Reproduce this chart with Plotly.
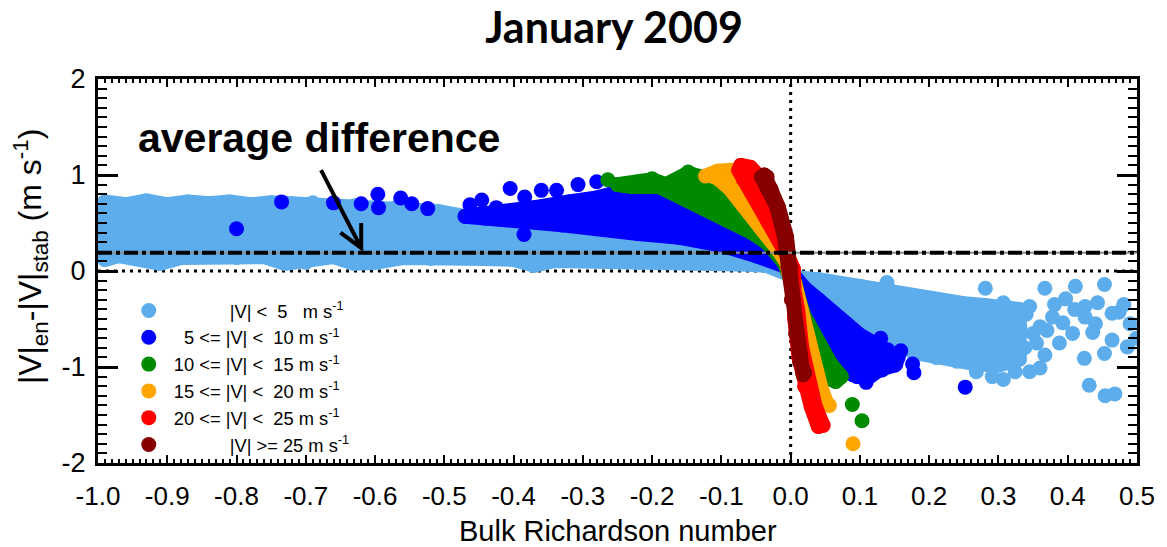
import plotly.graph_objects as go

# Difference between ensemble and stability-function wind speed versus the
# bulk Richardson number, January 2009, split into six wind-speed classes.
# Each class: the outline (marker centres) of its dense cloud + scattered points.

# |V| < 5 m/s
lb_cloud_x = [-0.99, -0.96, -0.93, -0.90, -0.87, -0.84, -0.81, -0.78, -0.75, -0.72, -0.69, -0.66,
              -0.63, -0.60, -0.57, -0.54, -0.51, -0.48,
              -0.44, -0.38, -0.30, -0.22, -0.15, -0.10, -0.05, -0.02, 0.00,
              0.01, 0.04, 0.07, 0.10, 0.13, 0.16, 0.19, 0.22, 0.25, 0.28, 0.31, 0.33,
              0.33, 0.30, 0.27, 0.24, 0.21, 0.18, 0.14, 0.10, 0.06, 0.03, 0.00,
              -0.02, -0.06, -0.10, -0.14, -0.18, -0.22, -0.26, -0.30, -0.34, -0.37, -0.40, -0.44,
              -0.48, -0.52, -0.56, -0.60, -0.63, -0.66, -0.70, -0.73, -0.76, -0.80, -0.84, -0.88,
              -0.91, -0.94, -0.97, -0.99]
lb_cloud_y = [0.72, 0.69, 0.73, 0.69, 0.72, 0.70, 0.72, 0.69, 0.71, 0.70, 0.71, 0.67,
              0.68, 0.66, 0.66, 0.63, 0.62, 0.58,
              0.53, 0.47, 0.40, 0.33, 0.27, 0.19, 0.10, 0.03, -0.03,
              -0.07, -0.09, -0.13, -0.16, -0.20, -0.25, -0.28, -0.31, -0.34, -0.36, -0.38, -0.40,
              -0.92, -0.98, -0.97, -0.94, -0.90, -0.85, -0.72, -0.52, -0.32, -0.16, -0.06,
              0.05, 0.07, 0.08, 0.08, 0.10, 0.09, 0.11, 0.12, 0.11, 0.06, 0.12, 0.13,
              0.14, 0.13, 0.14, 0.09, 0.08, 0.15, 0.09, 0.08, 0.15, 0.14, 0.16, 0.14,
              0.08, 0.14, 0.16, 0.12]
lb_pts_x = [0.139, 0.281, 0.367, 0.411, 0.453, 0.397, 0.381, 0.345, 0.307, 0.425, 0.443, 0.481,
            0.474, 0.424, 0.431, 0.454, 0.468, 0.453, 0.464, 0.486, 0.407, 0.388, 0.367, 0.360,
            0.345, 0.324, 0.307, 0.291, 0.268, 0.338, 0.317, 0.436, 0.378, 0.360, 0.393, 0.425,
            0.464, 0.331, 0.340, 0.350, 0.355, 0.370, 0.410, 0.440, 0.490, 0.499]
lb_pts_y = [-0.12, -0.18, -0.18, -0.16, -0.14, -0.29, -0.35, -0.37, -0.33, -0.37, -0.33, -0.35,
            -0.43, -0.91, -1.19, -1.30, -1.28, -0.86, -0.72, -0.79, -0.65, -0.75, -0.875, -1.01,
            -1.05, -1.05, -1.13, -1.10, -1.05, -0.80, -0.93, -0.64, -0.48, -0.58, -0.54, -0.48,
            -0.44, -0.58, -0.45, -0.65, -0.75, -0.62, -0.40, -0.55, -0.55, -0.70]

# 5 <= |V| < 10 m/s
b_cloud_x = [-0.47, -0.44, -0.40, -0.36, -0.32, -0.28, -0.24, -0.20, -0.16, -0.12, -0.08, -0.04,
             -0.01, 0.005, 0.02, 0.04, 0.06, 0.08, 0.10, 0.12, 0.14, 0.155,
             0.15, 0.13, 0.11, 0.09, 0.07, 0.05, 0.03, 0.015, 0.00,
             -0.02, -0.05, -0.10, -0.16, -0.22, -0.28, -0.33, -0.39, -0.44]
b_cloud_y = [0.57, 0.59, 0.63, 0.67, 0.72, 0.76, 0.84, 0.86, 0.80, 0.70, 0.52, 0.30,
             0.08, -0.08, -0.18, -0.30, -0.43, -0.56, -0.67, -0.75, -0.82, -0.90,
             -0.98, -1.02, -1.12, -1.08, -0.95, -0.70, -0.42, -0.20, 0.03,
             0.09, 0.16, 0.27, 0.35, 0.39, 0.45, 0.48, 0.52, 0.55]
b_pts_x = [-0.800, -0.735, -0.660, -0.620, -0.596, -0.595, -0.563, -0.547, -0.524, -0.463, -0.446,
           -0.425, -0.405, -0.384, -0.385, -0.360, -0.338, -0.307, -0.280, -0.245,
           0.130, 0.159, 0.152, 0.176, 0.178, 0.132, 0.109, 0.096, 0.252]
b_pts_y = [0.44, 0.72, 0.71, 0.70, 0.80, 0.66, 0.76, 0.70, 0.65, 0.69, 0.74,
           0.66, 0.86, 0.77, 0.38, 0.84, 0.84, 0.90, 0.93, 0.90,
           -0.70, -0.83, -0.97, -0.97, -1.06, -1.03, -1.16, -1.10, -1.21]

# 10 <= |V| < 15 m/s
g_cloud_x = [-0.25, -0.22, -0.20, -0.18, -0.16, -0.148, -0.13, -0.11, -0.08, -0.05, -0.025, -0.008,
             0.006, 0.015, 0.035, 0.058, 0.073, 0.065, 0.055,
             0.040, 0.025, 0.012, 0.000,
             -0.009, -0.019, -0.033, -0.056, -0.095, -0.142, -0.19, -0.23]
g_cloud_y = [0.90, 0.93, 0.95, 0.90, 0.95, 1.02, 0.98, 0.95, 0.85, 0.62, 0.35, 0.10,
             -0.12, -0.41, -0.69, -0.97, -1.10, -1.15, -1.12,
             -0.90, -0.60, -0.30, -0.05,
             0.08, 0.17, 0.29, 0.40, 0.54, 0.75, 0.88, 0.88]
g_pts_x = [-0.264, -0.221, -0.200, -0.162, -0.148, -0.180, 0.089, 0.103]
g_pts_y = [0.95, 0.92, 0.96, 0.95, 1.03, 0.89, -1.39, -1.56]

# 15 <= |V| < 20 m/s
o_cloud_x = [-0.118, -0.105, -0.085, -0.065, -0.045, -0.025, -0.010, 0.003, 0.010, 0.024, 0.034,
             0.043, 0.052, 0.042, 0.030, 0.018, 0.006, -0.006, -0.016, -0.030, -0.049, -0.069,
             -0.088, -0.106]
o_cloud_y = [1.00, 1.04, 1.05, 1.00, 0.82, 0.52, 0.22, -0.05, -0.27, -0.65, -1.00,
             -1.20, -1.38, -1.32, -1.05, -0.65, -0.25, 0.09, 0.20, 0.34, 0.51, 0.69,
             0.86, 0.97]
o_pts_x = [-0.123, -0.105, 0.056, 0.090]
o_pts_y = [0.99, 1.04, -1.40, -1.80]

# 20 <= |V| < 25 m/s
r_cloud_x = [-0.072, -0.058, -0.045, -0.032, -0.018, -0.006, 0.004, 0.010, 0.016, 0.024, 0.035,
             0.046, 0.040, 0.030, 0.020, 0.012, 0.006, 0.002, 0.004, -0.004, -0.018, -0.033,
             -0.053, -0.068, -0.075]
r_cloud_y = [1.10, 1.08, 0.98, 0.78, 0.50, 0.20, -0.10, -0.40, -0.80, -1.15, -1.40,
             -1.60, -1.62, -1.42, -1.20, -0.90, -0.50, -0.15, 0.02, 0.15, 0.34, 0.52,
             0.78, 0.95, 1.05]
r_pts_x = [-0.072, 0.047, 0.040, 0.033]
r_pts_y = [1.10, -1.61, -1.52, -1.40]

# |V| >= 25 m/s
dr_cloud_x = [-0.042, -0.033, -0.020, -0.009, -0.004, 0.001, 0.007, 0.013, 0.018,
              0.020, 0.014, 0.009, 0.004, 0.000, -0.006, -0.018, -0.028, -0.034, -0.038]
dr_cloud_y = [0.98, 0.85, 0.67, 0.354, 0.04, -0.30, -0.65, -0.95, -1.08,
              -1.06, -0.95, -0.65, -0.30, 0.04, 0.354, 0.67, 0.85, 0.98, 1.00]
dr_pts_x = [-0.040]
dr_pts_y = [0.99]

class_names = ["lt5", "5to10", "10to15", "15to20", "20to25", "ge25"]
class_colors = ["#5dadec", "#0000ff", "#008a00", "#ffa500", "#ff0000", "#870000"]

NB = "\u00a0"
class_labels = [
    NB * 12 + "|V| <" + NB * 2 + "5" + NB * 3 + "m s<sup>-1</sup>",
    NB * 3 + "5 <= |V| <" + NB * 2 + "10 m s<sup>-1</sup>",
    NB + "10 <= |V| <" + NB * 2 + "15 m s<sup>-1</sup>",
    NB + "15 <= |V| <" + NB * 2 + "20 m s<sup>-1</sup>",
    NB + "20 <= |V| <" + NB * 2 + "25 m s<sup>-1</sup>",
    NB * 12 + "|V| >= 25 m s<sup>-1</sup>",
]

avg_difference = 0.19

x_tick_vals = [-1.0, -0.9, -0.8, -0.7, -0.6, -0.5, -0.4, -0.3, -0.2, -0.1, 0.0, 0.1, 0.2, 0.3, 0.4, 0.5]
x_tick_text = ["-1.0", "-0.9", "-0.8", "-0.7", "-0.6", "-0.5", "-0.4", "-0.3", "-0.2", "-0.1",
               "0.0", "0.1", "0.2", "0.3", "0.4", "0.5"]
y_tick_vals = [-2, -1, 0, 1, 2]
y_tick_text = ["-2", "-1", "0", "1", "2"]

# arrow pointing at the average-difference line
arrow_tail = (-0.678, 1.05)
arrow_tip = (-0.620, 0.24)
arrow_arm_left = (-0.650, 0.40)
arrow_arm_right = (-0.620, 0.50)

MARKER = 15
SANS = "Liberation Sans, Arial, Helvetica, sans-serif"

series = [
    (lb_cloud_x, lb_cloud_y, lb_pts_x, lb_pts_y),
    (b_cloud_x, b_cloud_y, b_pts_x, b_pts_y),
    (g_cloud_x, g_cloud_y, g_pts_x, g_pts_y),
    (o_cloud_x, o_cloud_y, o_pts_x, o_pts_y),
    (r_cloud_x, r_cloud_y, r_pts_x, r_pts_y),
    (dr_cloud_x, dr_cloud_y, dr_pts_x, dr_pts_y),
]

fig = go.Figure()
for (cx, cy, px, py), name, color, label in zip(series, class_names, class_colors, class_labels):
    # dense part: filled outline whose stroke is one marker wide
    fig.add_trace(go.Scatter(
        x=cx + cx[:1], y=cy + cy[:1], mode="lines", fill="toself",
        fillcolor=color, line=dict(color=color, width=MARKER),
        showlegend=False, hoverinfo="skip", legendgroup=name,
    ))
    fig.add_trace(go.Scatter(
        x=cx + px, y=cy + py, mode="markers", name=label, legendgroup=name,
        marker=dict(color=color, size=MARKER, line=dict(width=0)),
    ))

shapes = [
    dict(type="line", xref="x", yref="y", x0=0, x1=0, y0=-2, y1=2, layer="below",
         line=dict(color="black", width=3, dash="3px,5px")),
    dict(type="line", xref="x", yref="y", x0=-1.0, x1=0.5, y0=0, y1=0, layer="below",
         line=dict(color="black", width=3, dash="3px,5px")),
    dict(type="line", xref="x", yref="y", x0=-1.0, x1=0.5, y0=avg_difference, y1=avg_difference,
         line=dict(color="#8c8c8c", width=2)),
    dict(type="line", xref="x", yref="y", x0=-1.0, x1=0.5, y0=avg_difference, y1=avg_difference,
         line=dict(color="black", width=4, dash="14px,4px,4px,4px")),
    dict(type="path", xref="x", yref="y", layer="above",
         path=(f"M {arrow_tail[0]},{arrow_tail[1]} L {arrow_tip[0]},{arrow_tip[1]} "
               f"M {arrow_arm_left[0]},{arrow_arm_left[1]} L {arrow_tip[0]},{arrow_tip[1]} "
               f"L {arrow_arm_right[0]},{arrow_arm_right[1]}"),
         line=dict(color="black", width=4)),
]

annotations = [
    dict(text="average difference", x=-0.6805, y=1.385, xref="x", yref="y",
         showarrow=False, xanchor="center", yanchor="middle",
         font=dict(family=SANS, size=41, color="black", weight="bold")),
    dict(text="|V|<sub>en</sub>-|V|<sub>stab</sub> (m s<sup>-1</sup>)", textangle=-90,
         x=-0.065, y=0.54, xref="paper", yref="paper", showarrow=False,
         xanchor="center", yanchor="middle", font=dict(family=SANS, size=32, color="black")),
    dict(text="Bulk Richardson number", x=0.5, y=-0.178, xref="paper", yref="paper",
         showarrow=False, xanchor="center", yanchor="middle",
         font=dict(family=SANS, size=29, color="black")),
]

fig.update_layout(
    width=1167, height=547,
    margin=dict(l=98, r=22, t=79, b=84),
    paper_bgcolor="white", plot_bgcolor="white",
    title=dict(text="January 2009", x=614 / 1167, xref="container", xanchor="center",
               y=1 - 28 / 547, yref="container", yanchor="middle",
               font=dict(family="Lato, Open Sans, sans-serif", size=43, color="black", weight="bold")),
    shapes=shapes, annotations=annotations,
    legend=dict(x=0.0296, y=0.445, xanchor="left", yanchor="top", bgcolor="rgba(0,0,0,0)",
                font=dict(family=SANS, size=18.3, color="black"), itemsizing="trace",
                traceorder="normal"),
    showlegend=True,
)
fig.update_xaxes(
    range=[-1.0, 0.5], tickmode="array", tickvals=x_tick_vals, ticktext=x_tick_text,
    ticks="inside", ticklen=8, tickwidth=2, tickcolor="black",
    minor=dict(ticks="inside", dtick=0.01, tick0=0, ticklen=4, tickwidth=1.5, tickcolor="black"),
    showline=True, linecolor="black", linewidth=3, mirror="allticks",
    showgrid=False, zeroline=False, ticklabelstandoff=8,
    tickfont=dict(family=SANS, size=26, color="black"),
)
fig.update_yaxes(
    range=[-2, 2], tickmode="array", tickvals=y_tick_vals, ticktext=y_tick_text,
    ticks="inside", ticklen=20, tickwidth=2.5, tickcolor="black",
    minor=dict(ticks="inside", dtick=0.1, tick0=0, ticklen=9, tickwidth=2, tickcolor="black"),
    showline=True, linecolor="black", linewidth=3, mirror="allticks",
    showgrid=False, zeroline=False, ticklabelstandoff=4,
    tickfont=dict(family=SANS, size=27, color="black"),
)

round_joins = ("document.querySelectorAll('.scatterlayer .js-line').forEach(function(p){"
               "p.style.strokeLinejoin='round';p.style.strokeLinecap='round';});")
fig.write_html("out.html", post_script=round_joins)
